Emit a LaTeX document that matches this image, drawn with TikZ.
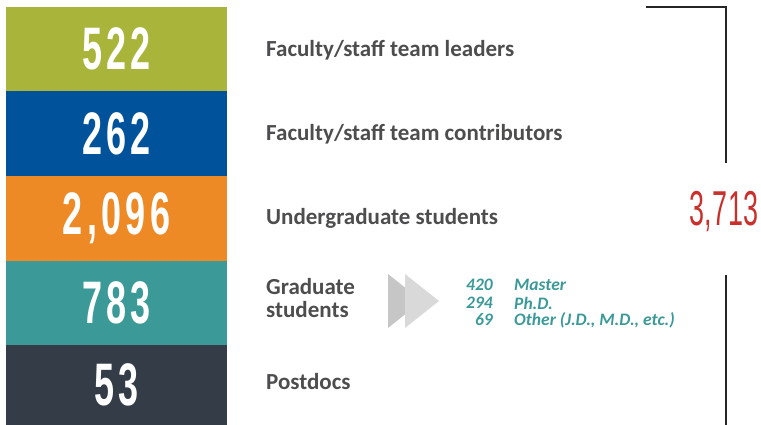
\documentclass[tikz,border=0pt]{standalone}
\usepackage{fontspec}
\usepackage{graphicx}
\setmainfont{Carlito}
\newfontfamily\numfont{Liberation Sans}[LetterSpace=12]
\newfontfamily\totfont{Liberation Sans}[LetterSpace=2]
\usetikzlibrary{positioning}

\definecolor{leadgreen}{HTML}{A8B53A}
\definecolor{contribblue}{HTML}{00529B}
\definecolor{undergradorange}{HTML}{EE8A26}
\definecolor{gradteal}{HTML}{3B9A98}
\definecolor{postdocslate}{HTML}{343D47}
\definecolor{labelgray}{HTML}{4D4D4F}
\definecolor{totalred}{HTML}{C9302C}
\definecolor{chevdark}{HTML}{C6C6C6}
\definecolor{chevlight}{HTML}{D9D9D9}

\newcommand{\narrowdigits}[1]{\scalebox{0.6}[1]{#1}}

\tikzset{
 numbox/.style={minimum width=221pt, minimum height=84.5pt, inner sep=0pt, text=white,
   font=\numfont\bfseries\fontsize{60}{60}\selectfont},
 rowlabel/.style={anchor=west, inner sep=0pt, text=labelgray, align=left,
   font=\bfseries\fontsize{23}{23}\selectfont},
 subnum/.style={anchor=east, inner sep=0pt, text=gradteal, font=\bfseries\itshape\fontsize{17.5}{17.5}\selectfont},
 subtxt/.style={anchor=west, inner sep=0pt, text=gradteal, font=\bfseries\itshape\fontsize{17.5}{17.5}\selectfont},
 bracket/.style={draw=black!85, line width=2pt}
}

\begin{document}
\begin{tikzpicture}[x=1pt, y=-1pt]
\useasboundingbox (0,0) rectangle (761,425);
% coloured rows
\foreach \i/\y/\col/\num in {1/49.25/leadgreen/522, 2/133.75/contribblue/262,
  3/218.25/undergradorange/{2,096}, 4/302.75/gradteal/783}{
 \node[numbox, fill=\col] (box\i) at (116.5,\y) {\narrowdigits{\num}};
}
\node[numbox, fill=postdocslate, minimum height=80pt] (box5) at (116.5,385) {\narrowdigits{53}};
% row labels
\node[rowlabel] (lab1) at (266,50) {Faculty/staff team leaders};
\node[rowlabel] (lab2) at (266,134) {Faculty/staff team contributors};
\node[rowlabel] (lab3) at (266,218) {Undergraduate students};
\node[rowlabel] (lab4) at (266,298.5) {Graduate\\students};
\node[rowlabel] (lab5) at (266,382) {Postdocs};
% chevrons
\fill[chevdark] (388,274) -- (422,301) -- (388,328) -- cycle;
\fill[chevlight] (405,274) -- (439,301) -- (405,328) -- cycle;
% graduate breakdown
\foreach \j/\y/\n/\t in {1/285/420/Master, 2/303/294/Ph.D., 3/320/69/{Other (J.D., M.D., etc.)}}{
 \node[subnum] (gnum\j) at (493,\y) {\n};
 \node[subtxt] (gtxt\j) at (514,\y) {\t};
}
% total and bracket
\node[text=totalred, inner sep=0pt, font=\totfont\fontsize{49}{49}\selectfont] (total) at (724,212)
  {\scalebox{0.55}[1]{3,713}};
\coordinate (brstart) at (646,7);
\coordinate (brcorner) at (726,7);
\coordinate (brend) at (726,163);
\coordinate (lowtop) at (726,275);
\coordinate (lowend) at (726,425);
\draw[bracket] (brstart) -- (brcorner) -- (brend);
\draw[bracket] (lowtop) -- (lowend);
\end{tikzpicture}
\end{document}
